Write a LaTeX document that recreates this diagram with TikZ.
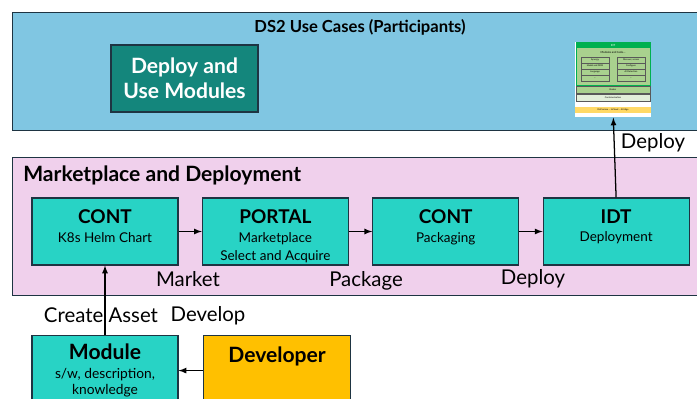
\documentclass[tikz,border=0pt]{standalone}
\usepackage{fontspec}
\setmainfont{Lato}
\usetikzlibrary{positioning, arrows}

\definecolor{usecase}{RGB}{128,198,226}
\definecolor{market}{RGB}{240,208,236}
\definecolor{darkteal}{RGB}{20,134,124}
\definecolor{turq}{RGB}{40,211,197}
\definecolor{devgold}{RGB}{255,192,0}
\definecolor{frame}{RGB}{30,52,66}
\definecolor{idtgreen}{RGB}{0,176,80}
\definecolor{idtlight}{RGB}{169,209,142}
\definecolor{idtpale}{RGB}{226,239,218}
\definecolor{idtyellow}{RGB}{255,217,102}

\begin{document}
\begin{tikzpicture}[
  x=0.025cm, y=-0.025cm,
  node distance=0.58cm and 0.58cm,
  panel/.style={draw=frame, line width=0.9pt, anchor=north west, inner sep=0pt},
  modbox/.style={draw=frame, line width=0.8pt, fill=turq, minimum width=3.65cm, minimum height=1.675cm, inner sep=0pt},
  boxtitle/.style={font=\fontsize{13.5}{16}\selectfont\bfseries, inner sep=0pt},
  boxsub/.style={font=\fontsize{9.6}{12.8}\selectfont, align=center, inner sep=0pt},
  flowlabel/.style={font=\fontsize{14.5}{17}\selectfont, inner sep=0pt},
  flow/.style={-latex, line width=0.9pt},
  tiny/.style={font=\fontsize{2}{2.4}\selectfont, inner sep=0pt},
  tinybox/.style={draw=gray!70!black, line width=0.15pt, fill=idtlight, minimum width=0.7cm, minimum height=0.14cm, inner sep=0pt, font=\fontsize{1.6}{2}\selectfont}
]
\clip (0,0) rectangle (697,399);
\fill[white] (0,0) rectangle (697,399);

% participants layer
\node[panel, fill=usecase, minimum width=17.45cm, minimum height=2.95cm] (usecases) at (12,12) {};
\node[font=\fontsize{11.8}{14}\selectfont\bfseries] (uctitle) at (360,27) {DS2 Use Cases (Participants)};
\node[draw=frame, line width=0.8pt, fill=darkteal, text=white, minimum width=3.675cm, minimum height=1.675cm,
  align=center, font=\fontsize{15}{17.8}\selectfont\bfseries] (usemod) at (184.5,78.5) {Deploy and\\Use Modules};

% small IDT stack
\node[fill=white, minimum width=1.9cm, minimum height=1.875cm, anchor=north west, inner sep=0pt] (idtpic) at (575,42) {};
\fill[idtlight, draw=idtgreen, line width=0.3pt] (576,42) rectangle (650,85);
\fill[idtgreen] (576,42) rectangle (650,48);
\node[tiny, text=white] (idthead) at (613,45) {IDT};
\node[tiny] (idttools) at (613,52) {Modules and tools\dots};
\node[tinybox] (t1) at (595,60) {Synergy};
\node[tinybox] (t2) at (595,66) {Model and DRM};
\node[tinybox] (t3) at (595,72) {Language};
\node[tinybox] (t4) at (595,78) {\dots};
\node[tinybox] (t5) at (631,60) {Discover, access};
\node[tinybox] (t6) at (631,66) {Configure};
\node[tinybox] (t7) at (631,72) {AI Detection};
\node[tinybox] (t8) at (631,78) {\dots};
\node[tinybox, minimum width=1.85cm, minimum height=0.17cm] (broker) at (613,89.5) {Broker};
\node[tinybox, fill=idtpale, minimum width=1.85cm, minimum height=0.17cm] (contain) at (613,97.5) {Containerisation};
\node[tinybox, draw=none, fill=idtyellow, minimum width=1.9cm, minimum height=0.17cm] (where) at (613,110) {OnPremise -- InCloud -- At Edge};

% marketplace layer
\node[panel, fill=market, minimum width=17.45cm, minimum height=3.45cm] (marketplace) at (12,157) {};
\node[font=\fontsize{15}{17}\selectfont\bfseries, anchor=west, inner sep=0pt] (mptitle) at (23,175) {Marketplace and Deployment};

\node[modbox] (cont1) at (105,231.5) {};
\node[modbox, right=of cont1] (portal) {};
\node[modbox, right=of portal] (cont2) {};
\node[modbox, right=of cont2] (idt) {};

\node[boxtitle, below=0.3cm of cont1.north] (cont1t) {CONT};
\node[boxsub, below=0.2cm of cont1t] (cont1s) {K8s Helm Chart};
\node[boxtitle, below=0.3cm of portal.north] (portalt) {PORTAL};
\node[boxsub, below=0.2cm of portalt] (portals) {Marketplace\\Select and Acquire};
\node[boxtitle, below=0.3cm of cont2.north] (cont2t) {CONT};
\node[boxsub, below=0.2cm of cont2t] (cont2s) {Packaging};
\node[boxtitle, below=0.3cm of idt.north] (idtt) {IDT};
\node[boxsub, below=0.2cm of idtt] (idts) {Deployment};

\node[flowlabel] (lmarket) at (188,279) {Market};
\node[flowlabel] (lpackage) at (366,281) {Package};
\node[flowlabel] (ldeploy) at (533,279) {Deploy};
\node[flowlabel] (lup) at (653,143) {Deploy};

% developer side
\node[draw=frame, line width=0.8pt, fill=turq, minimum width=3.65cm, minimum height=1.75cm, anchor=north, inner sep=0pt] (module) at (105,335) {};
\node[boxtitle, font=\fontsize{15}{17}\selectfont\bfseries, below=0.22cm of module.north] (modulet) {Module};
\node[boxsub, below=0.2cm of modulet, font=\fontsize{9.8}{11.4}\selectfont] (modules) {s/w, description,\\knowledge};
\node[draw=frame, line width=0.8pt, fill=devgold, minimum width=3.675cm, minimum height=1.75cm, anchor=north west, inner sep=0pt] (developer) at (203,335) {};
\node[boxtitle, font=\fontsize{15}{17}\selectfont\bfseries, below=0.3cm of developer.north] (devt) {Developer};

\node[flowlabel] (lcreate) at (101,315) {Create Asset};
\node[flowlabel] (ldevelop) at (208,316) {Develop};

\path (cont1) edge[flow] (portal)
(portal) edge[flow] (cont2)
(cont2) edge[flow] (idt)
(idt.north) edge[flow] (idtpic.south)
(module.north) edge[flow] (cont1.south)
(developer.west) edge[flow] (module.east);

\end{tikzpicture}
\end{document}
